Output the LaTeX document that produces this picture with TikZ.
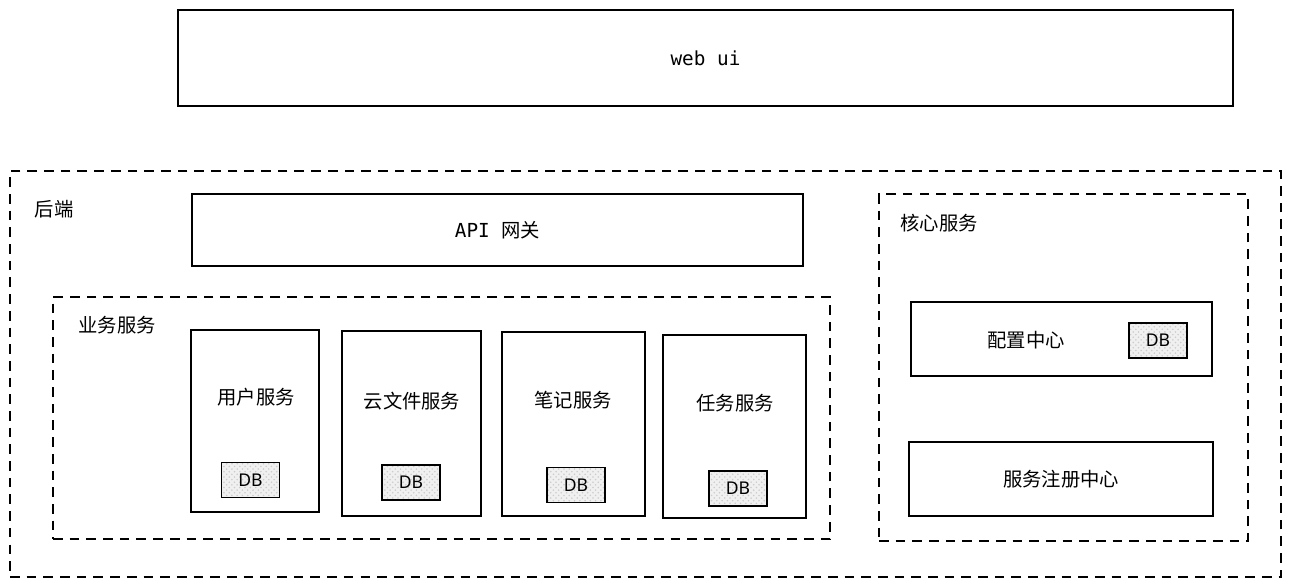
\documentclass[tikz,border=0pt]{standalone}
\usepackage{fontspec}
\setmainfont{Noto Sans CJK SC}
\setmonofont{DejaVu Sans Mono}
\newfontfamily\cjk{Noto Sans CJK SC}
\newfontfamily\dbfont{Noto Sans}
\usetikzlibrary{positioning,fit,patterns}

\begin{document}
\begin{tikzpicture}[x=0.02cm, y=-0.02cm,
    box/.style={draw, line width=0.8pt, inner sep=0pt},
    group/.style={draw, line width=0.6pt, dash pattern=on 5.5pt off 4pt, inner sep=0pt},
    dbbox/.style={draw, line width=0.8pt, preaction={fill=black!6}, pattern=crosshatch dots, pattern color=black!20,
        minimum width=1.16cm, minimum height=0.7cm, inner sep=0pt, font=\dbfont\fontsize{10}{12}\selectfont},
    title/.style={font=\cjk\fontsize{11}{13}\selectfont},
    monotitle/.style={font=\ttfamily\fontsize{11}{13}\selectfont}]

        \useasboundingbox (0,0) rectangle (1290,585);

        % web ui
        \node [box, fit={(178,10) (1233,106)}] (webui) {};
        \node [monotitle] at (webui.center) {web ui};

        % backend
        \node [group, fit={(10,171) (1281,577)}] (backend) {};
        \node [title] (backendlabel) at (54,209) {后端};

        \node [box, fit={(192,194) (803,266)}] (gateway) {};
        \node [monotitle] at (gateway.center) {API \cjk 网关};

        % business services
        \node [group, fit={(53,297) (830,539)}] (business) {};
        \node [title] (businesslabel) at (117,325) {业务服务};

        \node [box, fit={(191,330) (319,512)}] (user) {};
        \node [title] at (256,397) {用户服务};
        \node [dbbox] (userdb) at (250.5,480) {DB};

        \node [box, fit={(342,331) (481,516)}] (cloud) {};
        \node [title] at (412,401) {云文件服务};
        \node [dbbox] (clouddb) at (411,482.5) {DB};

        \node [box, fit={(502,332) (645,516)}] (note) {};
        \node [title] at (573,400) {笔记服务};
        \node [dbbox] (notedb) at (576,485) {DB};

        \node [box, fit={(663,335) (806,518)}] (task) {};
        \node [title] at (735,403) {任务服务};
        \node [dbbox] (taskdb) at (738,488.5) {DB};

        % core services
        \node [group, fit={(879,194) (1248,541)}] (core) {};
        \node [title] (corelabel) at (939,223) {核心服务};

        \node [box, fit={(911,302) (1212,376)}] (config) {};
        \node [title] at (1026,340) {配置中心};
        \node [dbbox] (configdb) at (1158,340.5) {DB};

        \node [box, fit={(909,442) (1213,516)}] (registry) {};
        \node [title] at (1061,479) {服务注册中心};

    \end{tikzpicture}
\end{document}
